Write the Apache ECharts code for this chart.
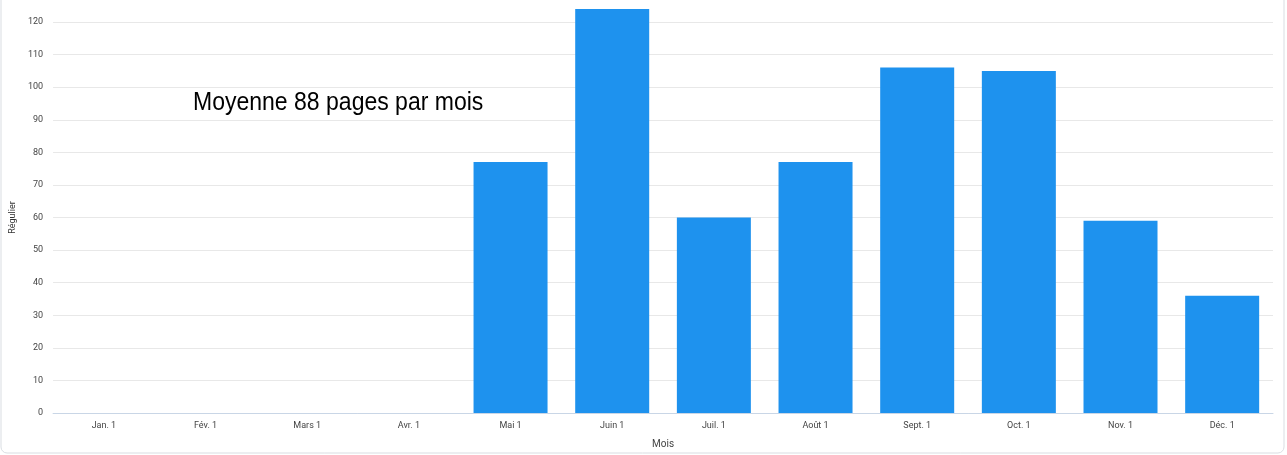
<!DOCTYPE html>
<html>
<head>
<meta charset="utf-8">
<script src="https://cdn.jsdelivr.net/npm/echarts@6/dist/echarts.min.js"></script>
<style>
  html, body { margin: 0; padding: 0; background: #fff; }
  #chart { width: 1287px; height: 455px; }
</style>
</head>
<body>
<div id="chart"></div>
<script>
var months = ["Jan. 1", "Fév. 1", "Mars 1", "Avr. 1", "Mai 1", "Juin 1", "Juil. 1", "Août 1", "Sept. 1", "Oct. 1", "Nov. 1", "Déc. 1"];
var pages = [0, 0, 0, 0, 77, 124, 60, 77, 106, 105, 59, 36];
var note = "Moyenne 88 pages par mois";

var myChart = echarts.init(document.getElementById("chart"));

myChart.setOption({
  animation: false,
  grid: { left: 48, right: 14, top: 22, bottom: 42, containLabel: false },
  graphic: [
    {
      type: "rect",
      shape: { x: 1, y: -10, width: 1283, height: 463, r: 6 },
      style: { fill: "none", stroke: "#d9dde2", lineWidth: 1 },
      silent: true
    },
    {
      type: "text",
      x: 193,
      y: 90,
      scaleX: 0.885,
      style: { text: note, font: "26px 'Liberation Sans', Arial, sans-serif", fill: "#000" }
    }
  ],
  xAxis: {
    type: "category",
    data: months,
    name: "Mois",
    nameLocation: "middle",
    nameGap: 26,
    nameTextStyle: { color: "#444", fontSize: 10, fontFamily: "Roboto" },
    axisLine: { lineStyle: { color: "#c9d6e6" } },
    axisTick: { show: false },
    axisLabel: { color: "#444", fontSize: 9, fontFamily: "Roboto", margin: 8 }
  },
  yAxis: {
    type: "value",
    min: 0,
    max: 120,
    interval: 10,
    name: "Régulier",
    nameLocation: "middle",
    nameGap: 34,
    nameTextStyle: { color: "#333", fontSize: 9, fontFamily: "Roboto" },
    axisLine: { show: false },
    axisTick: { show: false },
    axisLabel: { color: "#444", fontSize: 9, fontFamily: "Roboto", margin: 10 },
    splitLine: { lineStyle: { color: "#e8e8e8" } }
  },
  series: [
    {
      type: "bar",
      data: pages,
      barWidth: 74,
      clip: false,
      itemStyle: { color: "#1e92ee" }
    }
  ]
});
</script>
</body>
</html>
